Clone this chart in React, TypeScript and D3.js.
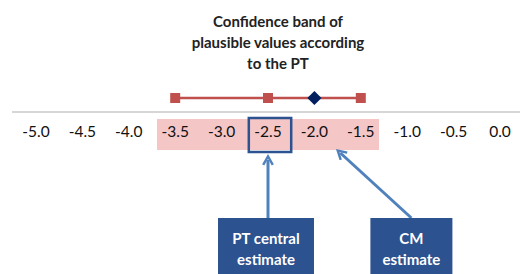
import * as d3 from 'd3'

const ticks = [-5.0, -4.5, -4.0, -3.5, -3.0, -2.5, -2.0, -1.5, -1.0, -0.5, 0.0]
const bandRange = [-3.5, -1.5]
const bandPoints = [-3.5, -2.5, -1.5]
const ptCentral = -2.5
const cmEstimate = -2.0
const titleLines = ['Confidence band of', 'plausible values according', 'to the PT']
const ptLabel = ['PT central', 'estimate']
const cmLabel = ['CM', 'estimate']

const W = 520
const H = 274
const FONT = 'Lato, "Open Sans", sans-serif'

export default function App() {
  const x = d3.scaleLinear().domain([-5, 0]).range([36, 500])
  const step = x(0.5) - x(0)
  const axisY = 112
  const markY = 98
  const labelY = 133
  const arrowBlue = '#4f81bd'
  const navy = '#2c5290'

  const boxTop = 218
  const ptBoxX = x(ptCentral)
  const cmBoxX = x(-0.75) - 19
  // diamond = square turned 45 degrees
  const diamond = d3.symbol(d3.symbolSquare, 100)()
  const square = d3.symbol(d3.symbolSquare, 100)()

  return (
    <div style={{ position: 'absolute', left: 0, top: 0 }}>
      <svg width={W} height={H} style={{ display: 'block', fontFamily: FONT }}>
        <defs>
          <marker id="arr" viewBox="0 0 10 10" refX="5" refY="5" markerWidth="4" markerHeight="4" orient="auto">
            <path d="M1,1 L8,5 L1,9" fill="none" stroke={arrowBlue} strokeWidth="2" />
          </marker>
        </defs>

        {/* title */}
        {titleLines.map((t, i) => (
          <text key={t} x={278} y={27 + i * 21} textAnchor="middle" fontSize={15} fontWeight={700} fill="#222">
            {t}
          </text>
        ))}

        {/* confidence band */}
        <rect
          x={x(bandRange[0]) - step / 2 + 5}
          y={119}
          width={x(bandRange[1]) - x(bandRange[0]) + step - 10}
          height={31}
          fill="#f4c6c6"
        />

        {/* axis line */}
        <line x1={12} x2={W} y1={axisY} y2={axisY} stroke="#c8c8c8" strokeWidth={1.5} />

        {/* tick labels */}
        {ticks.map(t => (
          <text key={t} x={x(t)} y={labelY} textAnchor="middle" dominantBaseline="middle" fontSize={15.5} fill="#111">
            {t.toFixed(1)}
          </text>
        ))}

        {/* PT central highlight */}
        <rect
          x={x(ptCentral) - step / 2 + 4}
          y={118}
          width={step - 8 + 4}
          height={34}
          fill="none"
          stroke="#2c5290"
          strokeWidth={2.5}
        />

        {/* band line and markers */}
        <line x1={x(bandRange[0])} x2={x(bandRange[1])} y1={markY} y2={markY} stroke="#c0504d" strokeWidth={2.5} />
        {bandPoints.map(p => (
          <path key={p} d={square ?? ''} transform={`translate(${x(p)},${markY})`} fill="#c0504d" />
        ))}
        <path d={diamond ?? ''} transform={`translate(${x(cmEstimate)},${markY}) rotate(45)`} fill="#002060" />

        {/* arrows */}
        <line x1={ptBoxX} x2={ptBoxX} y1={boxTop} y2={160} stroke={arrowBlue} strokeWidth={3} markerEnd="url(#arr)" />
        <line x1={cmBoxX} x2={x(cmEstimate) + 26} y1={boxTop} y2={153} stroke={arrowBlue} strokeWidth={3} markerEnd="url(#arr)" />

        {/* annotation boxes */}
        <rect x={ptBoxX - 50} y={boxTop} width={96} height={60} fill={navy} />
        {ptLabel.map((t, i) => (
          <text key={t} x={ptBoxX - 2} y={240 + i * 21} textAnchor="middle" dominantBaseline="middle" fontSize={15} fontWeight={700} fill="#fff">
            {t}
          </text>
        ))}
        <rect x={cmBoxX - 41} y={boxTop} width={82} height={60} fill={navy} />
        {cmLabel.map((t, i) => (
          <text key={t} x={cmBoxX} y={240 + i * 21} textAnchor="middle" dominantBaseline="middle" fontSize={15} fontWeight={700} fill="#fff">
            {t}
          </text>
        ))}
      </svg>
    </div>
  )
}
